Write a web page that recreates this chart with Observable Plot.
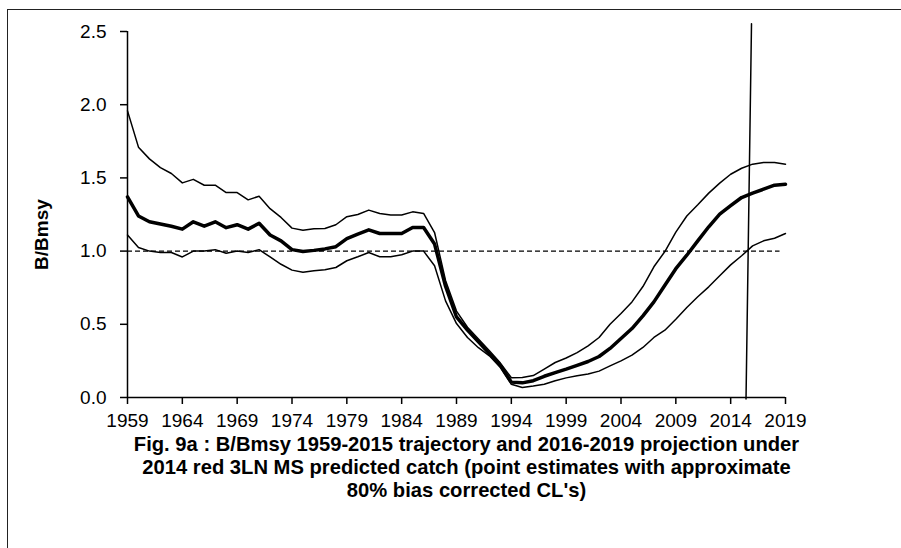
<!DOCTYPE html>
<html>
<head>
<meta charset="utf-8">
<script src="https://cdn.jsdelivr.net/npm/d3@7"></script>
<script src="https://cdn.jsdelivr.net/npm/@observablehq/plot@0.6"></script>
<style>
  html, body { margin: 0; padding: 0; background: #fff; overflow: hidden; }
  #wrap { position: relative; width: 901px; height: 548px; overflow: hidden; }
  #box { position: absolute; left: 7px; top: 9px; width: 1000px; height: 700px;
         border-left: 1.5px solid #222; border-top: 1.5px solid #222; box-sizing: border-box; }
  #chart { position: absolute; left: 0; top: 0; }
</style>
</head>
<body>
<div id="wrap"><div id="box"></div><div id="chart"></div></div>
<script>
const years = [1959,1960,1961,1962,1963,1964,1965,1966,1967,1968,1969,1970,1971,1972,1973,1974,1975,1976,1977,1978,1979,1980,1981,1982,1983,1984,1985,1986,1987,1988,1989,1990,1991,1992,1993,1994,1995,1996,1997,1998,1999,2000,2001,2002,2003,2004,2005,2006,2007,2008,2009,2010,2011,2012,2013,2014,2015,2016,2017,2018,2019];
const estimate = [1.37,1.24,1.20,1.185,1.17,1.15,1.20,1.17,1.20,1.16,1.18,1.15,1.19,1.11,1.07,1.01,0.997,1.005,1.015,1.03,1.085,1.116,1.145,1.12,1.12,1.12,1.161,1.161,1.048,0.76,0.55,0.46,0.38,0.30,0.22,0.105,0.10,0.115,0.145,0.17,0.194,0.22,0.246,0.28,0.335,0.403,0.471,0.558,0.653,0.767,0.88,0.972,1.07,1.166,1.252,1.31,1.366,1.396,1.423,1.45,1.457];
const upperCL = [1.958,1.71,1.63,1.57,1.53,1.466,1.49,1.45,1.45,1.40,1.40,1.35,1.375,1.29,1.23,1.157,1.143,1.152,1.154,1.18,1.235,1.25,1.28,1.257,1.246,1.246,1.268,1.257,1.127,0.80,0.59,0.48,0.40,0.32,0.235,0.135,0.137,0.15,0.194,0.239,0.27,0.307,0.353,0.41,0.50,0.574,0.653,0.758,0.893,0.997,1.13,1.24,1.316,1.396,1.464,1.525,1.566,1.594,1.605,1.605,1.594];
const lowerCL = [1.11,1.025,1.00,0.99,0.99,0.96,1.00,1.00,1.01,0.985,1.00,0.99,1.01,0.96,0.91,0.87,0.856,0.865,0.872,0.888,0.934,0.961,0.99,0.961,0.961,0.975,1.0,1.0,0.90,0.66,0.505,0.41,0.34,0.285,0.205,0.09,0.068,0.078,0.09,0.114,0.134,0.148,0.16,0.18,0.216,0.25,0.289,0.342,0.41,0.46,0.535,0.615,0.688,0.756,0.831,0.906,0.968,1.036,1.07,1.088,1.12];
const xTicks = [1959,1964,1969,1974,1979,1984,1989,1994,1999,2004,2009,2014,2019];
const yTicks = [0,0.5,1.0,1.5,2.0,2.5];
const refLevel = 1.0;
const refSpan = [1959, 2018.5];
const projectionMarker = [{year: 2015.4, value: -0.01}, {year: 2015.9, value: 2.553}];
const yLabel = "B/Bmsy";
const captionLines = [
  "Fig. 9a : B/Bmsy 1959-2015 trajectory and 2016-2019 projection under",
  "2014 red 3LN MS predicted catch (point estimates with approximate",
  "80% bias corrected CL's)"
];

const rows = years.map((y, i) => ({year: y, est: estimate[i], up: upperCL[i], lo: lowerCL[i]}));
const font = "'Liberation Sans', Arial, sans-serif";

const chart = Plot.plot({
  width: 901,
  height: 548,
  marginLeft: 127,
  marginRight: 116,
  marginTop: 31,
  marginBottom: 151,
  style: {fontFamily: font, fontSize: "19px", color: "#000", background: "transparent", overflow: "visible"},
  x: {domain: [1959, 2019]},
  y: {domain: [0, 2.5]},
  marks: [
    Plot.ruleY([refLevel], {x1: refSpan[0], x2: refSpan[1], stroke: "#000", strokeWidth: 1.3, strokeDasharray: "5,3"}),
    Plot.line(rows, {x: "year", y: "up", stroke: "#000", strokeWidth: 1.5}),
    Plot.line(rows, {x: "year", y: "lo", stroke: "#000", strokeWidth: 1.5}),
    Plot.line(rows, {x: "year", y: "est", stroke: "#000", strokeWidth: 3.5}),
    Plot.ruleX([1959], {y1: 0, y2: 2.5, stroke: "#000", strokeWidth: 1.5}),
    Plot.ruleY([0], {x1: 1959, x2: 2019, stroke: "#000", strokeWidth: 1.5}),
    Plot.axisY(yTicks, {label: null, text: null, tickSize: 7, stroke: "#000", strokeWidth: 1.5}),
    Plot.axisX(xTicks, {label: null, text: null, tickSize: 7, stroke: "#000", strokeWidth: 1.5}),
    Plot.text(yTicks, {y: d => d, text: d => d.toFixed(1), frameAnchor: "left", dx: -21, textAnchor: "end", fontSize: 19, fill: "#000"}),
    Plot.text(xTicks, {x: d => d, text: d => String(d), frameAnchor: "bottom", dy: 23, lineAnchor: "middle", textAnchor: "middle", fontSize: 19, fill: "#000"}),
    Plot.line(projectionMarker, {x: "year", y: "value", stroke: "#000", strokeWidth: 1.5, clip: false}),
    Plot.text([yLabel], {frameAnchor: "left", textAnchor: "middle", dx: -86, dy: 20, rotate: -90, fontWeight: "bold", fontSize: 19, fill: "#000"}),
    Plot.text([captionLines.join("\n")], {frameAnchor: "bottom", textAnchor: "middle", dx: 10, dy: 37, lineAnchor: "top", lineHeight: 1.14, fontWeight: "bold", fontSize: 20.2, fill: "#000"})
  ]
});
document.getElementById("chart").appendChild(chart);
</script>
</body>
</html>
